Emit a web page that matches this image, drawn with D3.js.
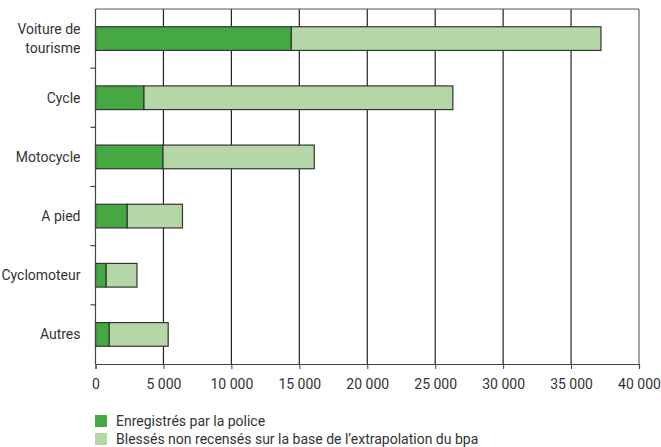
<!DOCTYPE html>
<html>
<head>
<meta charset="utf-8">
<script src="https://cdnjs.cloudflare.com/ajax/libs/d3/7.8.5/d3.min.js"></script>
<style>
  body { margin: 0; background: #fff; }
  svg text { font-family: Roboto, "Open Sans", sans-serif; fill: #333; }
</style>
</head>
<body>
<div id="chart"></div>
<script>
var categories = ['Voiture de tourisme', 'Cycle', 'Motocycle', 'A pied', 'Cyclomoteur', 'Autres'];
var police = [14400, 3550, 4950, 2320, 770, 1000];
var totals = [37200, 26300, 16100, 6400, 3050, 5350];
var xTicks = [0, 5000, 10000, 15000, 20000, 25000, 30000, 35000, 40000];
var seriesNames = ['Enregistrés par la police', 'Blessés non recensés sur la base de l\u2019extrapolation du bpa'];
var colors = ['#46a843', '#b5d7a8'];

var width = 661, height = 447;
var margin = {top: 9, right: 22, bottom: 83, left: 95.5};
var innerW = width - margin.left - margin.right,
    innerH = height - margin.top - margin.bottom;

var svg = d3.select('#chart').append('svg')
    .attr('width', width)
    .attr('height', height);

var g = svg.append('g')
    .attr('transform', 'translate(' + margin.left + ',' + margin.top + ')');

var x = d3.scaleLinear().domain([0, 40000]).range([0, innerW]);
var y = d3.scaleBand().domain(categories).range([0, innerH]).paddingInner(0.6).paddingOuter(0.3);

var fmt = function(d) { return d3.format(',')(d).replace(/,/g, ' '); };

// gridlines
g.selectAll('.grid').data(xTicks.slice(1)).enter().append('line')
    .attr('x1', function(d) { return x(d); })
    .attr('x2', function(d) { return x(d); })
    .attr('y1', 0).attr('y2', innerH)
    .attr('stroke', function(d, i) { return i === xTicks.length - 2 ? '#666' : '#222'; })
    .attr('stroke-width', 1.2);

// top frame
g.append('line').attr('x1', 0).attr('x2', innerW).attr('y1', 0).attr('y2', 0)
    .attr('stroke', '#555').attr('stroke-width', 1.2);

// bars
var rows = categories.map(function(c, i) {
    return {cat: c, police: police[i], total: totals[i]};
});

var bar = g.selectAll('.row').data(rows).enter().append('g');

bar.append('rect')
    .attr('x', function(d) { return x(d.police); })
    .attr('y', function(d) { return y(d.cat); })
    .attr('width', function(d) { return x(d.total) - x(d.police); })
    .attr('height', y.bandwidth())
    .attr('fill', colors[1])
    .attr('stroke', '#333').attr('stroke-width', 1.2);

bar.append('rect')
    .attr('x', x(0))
    .attr('y', function(d) { return y(d.cat); })
    .attr('width', function(d) { return x(d.police); })
    .attr('height', y.bandwidth())
    .attr('fill', colors[0])
    .attr('stroke', '#333').attr('stroke-width', 1.2);

// x axis
var xAxis = g.append('g')
    .attr('transform', 'translate(0,' + innerH + ')')
    .call(d3.axisBottom(x).tickValues(xTicks).tickFormat(fmt).tickSize(5).tickPadding(10));
xAxis.select('.domain').attr('stroke', '#444').attr('stroke-width', 1.2);
xAxis.selectAll('.tick line').attr('stroke', '#444');
xAxis.selectAll('text').style('font-size', '14px').attr('fill', '#333')
    .style('font-family', 'Roboto, "Open Sans", sans-serif');

// y axis: line with ticks at category boundaries
g.append('line').attr('x1', 0).attr('x2', 0).attr('y1', 0).attr('y2', innerH)
    .attr('stroke', '#444').attr('stroke-width', 1.2);
var step = y.step();
var bounds = d3.range(1, categories.length).map(function(i) { return y(categories[i]) - step * y.paddingInner() / 2; });
g.selectAll('.ytick').data(bounds).enter().append('line')
    .attr('x1', -5).attr('x2', 0)
    .attr('y1', function(d) { return d; }).attr('y2', function(d) { return d; })
    .attr('stroke', '#444').attr('stroke-width', 1.2);

// category labels
var labels = g.selectAll('.lab').data(rows).enter().append('text')
    .attr('x', -15)
    .attr('y', function(d) { return y(d.cat) + y.bandwidth() / 2; })
    .attr('text-anchor', 'end')
    .style('font-size', '14px');

labels.each(function(d) {
    var t = d3.select(this);
    var parts = d.cat === 'Voiture de tourisme' ? ['Voiture de', 'tourisme'] : [d.cat];
    var off = -(parts.length - 1) * 0.68;
    parts.forEach(function(p, i) {
        t.append('tspan').attr('x', -15)
            .attr('dy', i === 0 ? (off + 0.35) + 'em' : '1.36em')
            .text(p);
    });
});

// legend
var legend = svg.append('g').attr('transform', 'translate(95,415)');
seriesNames.forEach(function(name, i) {
    legend.append('rect').attr('x', 0).attr('y', i * 18).attr('width', 12).attr('height', 12)
        .attr('fill', colors[i]);
    legend.append('text').attr('x', 21).attr('y', i * 18 + 11)
        .style('font-size', '14px').text(name);
});
</script>
</body>
</html>
